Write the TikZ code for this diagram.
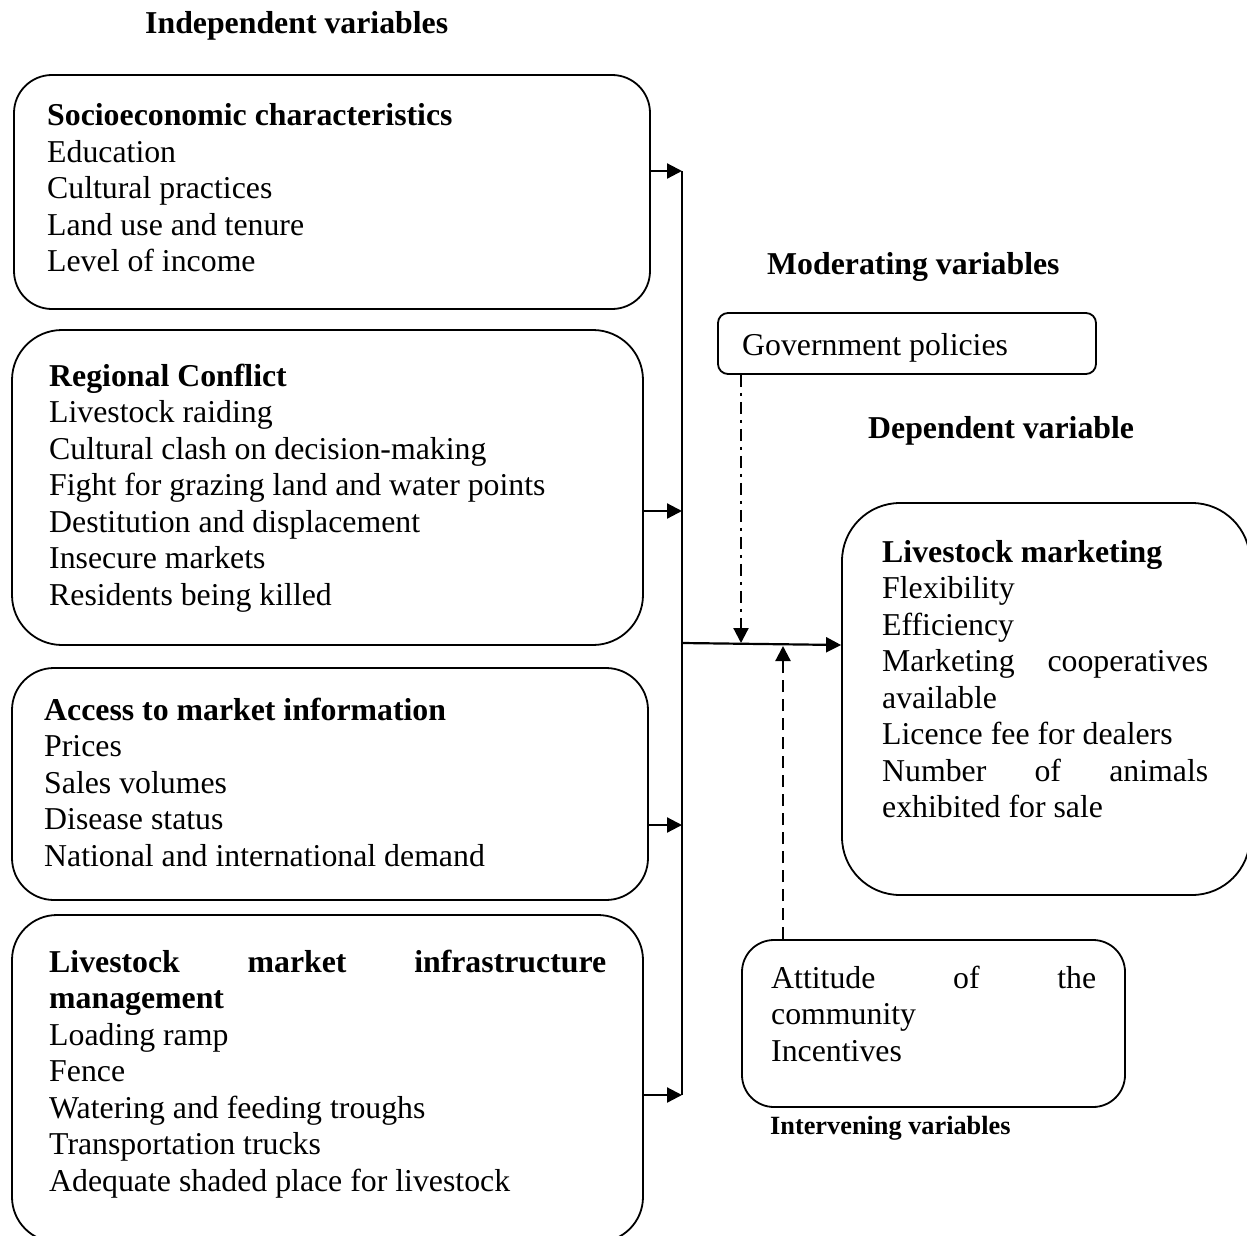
\documentclass[tikz,border=0pt]{standalone}
\usepackage{fontspec}
\setmainfont{Liberation Serif}
\usetikzlibrary{arrows.meta}
\tikzset{
  box/.style={draw, line width=1.8pt, inner sep=0pt},
  txt/.style={anchor=base west, inner sep=0pt},
  ttl/.style={anchor=base west, inner sep=0pt, font=\fontsize{31.8}{36.5}\selectfont\bfseries},
  conn/.style={line width=2.2pt, -{Triangle[length=15pt,width=15pt]}},
  plain/.style={line width=2.2pt},
}
\newcommand{\tb}[1]{\fontsize{31.8}{36.5}\selectfont\begin{tabular}[t]{@{}l@{}}#1\end{tabular}}
\begin{document}
\begin{tikzpicture}[x=1pt,y=-1pt]
\useasboundingbox (0,0) rectangle (1247,1236);
\begin{scope}
\clip (0,0) rectangle (1247,1236);
% boxes
\node[box, rounded corners=38pt, minimum width=636pt, minimum height=234pt] (b1) at (332,192) {};
\node[box, rounded corners=50pt, minimum width=631pt, minimum height=315pt] (b2) at (327.5,487.5) {};
\node[box, rounded corners=42pt, minimum width=636pt, minimum height=232pt] (b3) at (330,784) {};
\node[box, rounded corners=45pt, minimum width=631pt, minimum height=327pt] (b4) at (327.5,1078.5) {};
\node[box, rounded corners=10pt, minimum width=378pt, minimum height=61pt] (gp) at (907,343.5) {};
\node[box, rounded corners=58pt, minimum width=408pt, minimum height=392pt] (lm) at (1046,699) {};
\node[box, rounded corners=32pt, minimum width=383pt, minimum height=167pt] (at) at (933.5,1023.5) {};
\end{scope}
% junction points on the collecting line
\coordinate (v1) at (682,171);
\coordinate (v2) at (682,511);
\coordinate (v3) at (682,825);
\coordinate (v4) at (682,1095);
\coordinate (vm) at (682,643);
\coordinate (le) at (842,645);
\coordinate (gpe) at (741,643);
\coordinate (ate) at (783,646);
% titles
\node[ttl] (t1) at (145,34) {Independent variables};
\node[ttl] (t2) at (767,274) {Moderating variables};
\node[ttl] (t3) at (868,438) {Dependent variable};
\node[anchor=base west, inner sep=0pt, font=\fontsize{26.3}{30}\selectfont\bfseries] (t4) at (770,1134) {Intervening variables};
% texts
\node[txt] (x1) at (47,126) {\tb{\textbf{Socioeconomic characteristics}\\Education\\Cultural practices\\Land use and tenure\\Level of income}};
\node[txt] (x2) at (49,386) {\tb{\textbf{Regional Conflict}\\Livestock raiding\\Cultural clash on decision-making\\Fight for grazing land and water points\\Destitution and displacement\\Insecure markets\\Residents being killed}};
\node[txt] (x3) at (44,720) {\tb{\textbf{Access to market information}\\Prices\\Sales volumes\\Disease status\\National and international demand}};
\node[txt] (x4) at (49,972) {\tb{\makebox[557pt][s]{\bfseries Livestock market infrastructure}\\\textbf{management}\\Loading ramp\\Fence\\Watering and feeding troughs\\Transportation trucks\\Adequate shaded place for livestock}};
\node[txt] (x5) at (742,355) {\tb{Government policies}};
\node[txt] (x6) at (882,562) {\tb{\textbf{Livestock marketing}\\Flexibility\\Efficiency\\\makebox[326pt][s]{Marketing cooperatives}\\available\\Licence fee for dealers\\\makebox[326pt][s]{Number of animals}\\exhibited for sale}};
\node[txt] (x7) at (771,988) {\tb{\makebox[325pt][s]{Attitude of the}\\community\\Incentives}};
% connectors
\draw[conn] (b1.east |- v1) -- (v1);
\draw[conn] (b2.east |- v2) -- (v2);
\draw[conn] (b3.east |- v3) -- (v3);
\draw[conn] (b4.east |- v4) -- (v4);
\draw[plain] (v1) -- (v4);
\draw[conn] (vm) -- (lm.west |- le);
\draw[conn, dash pattern=on 12pt off 6pt on 3pt off 6pt] (gp.south -| gpe) -- (gpe);
\draw[conn, dash pattern=on 12pt off 7pt] (at.north -| ate) -- (ate);
\end{tikzpicture}
\end{document}
